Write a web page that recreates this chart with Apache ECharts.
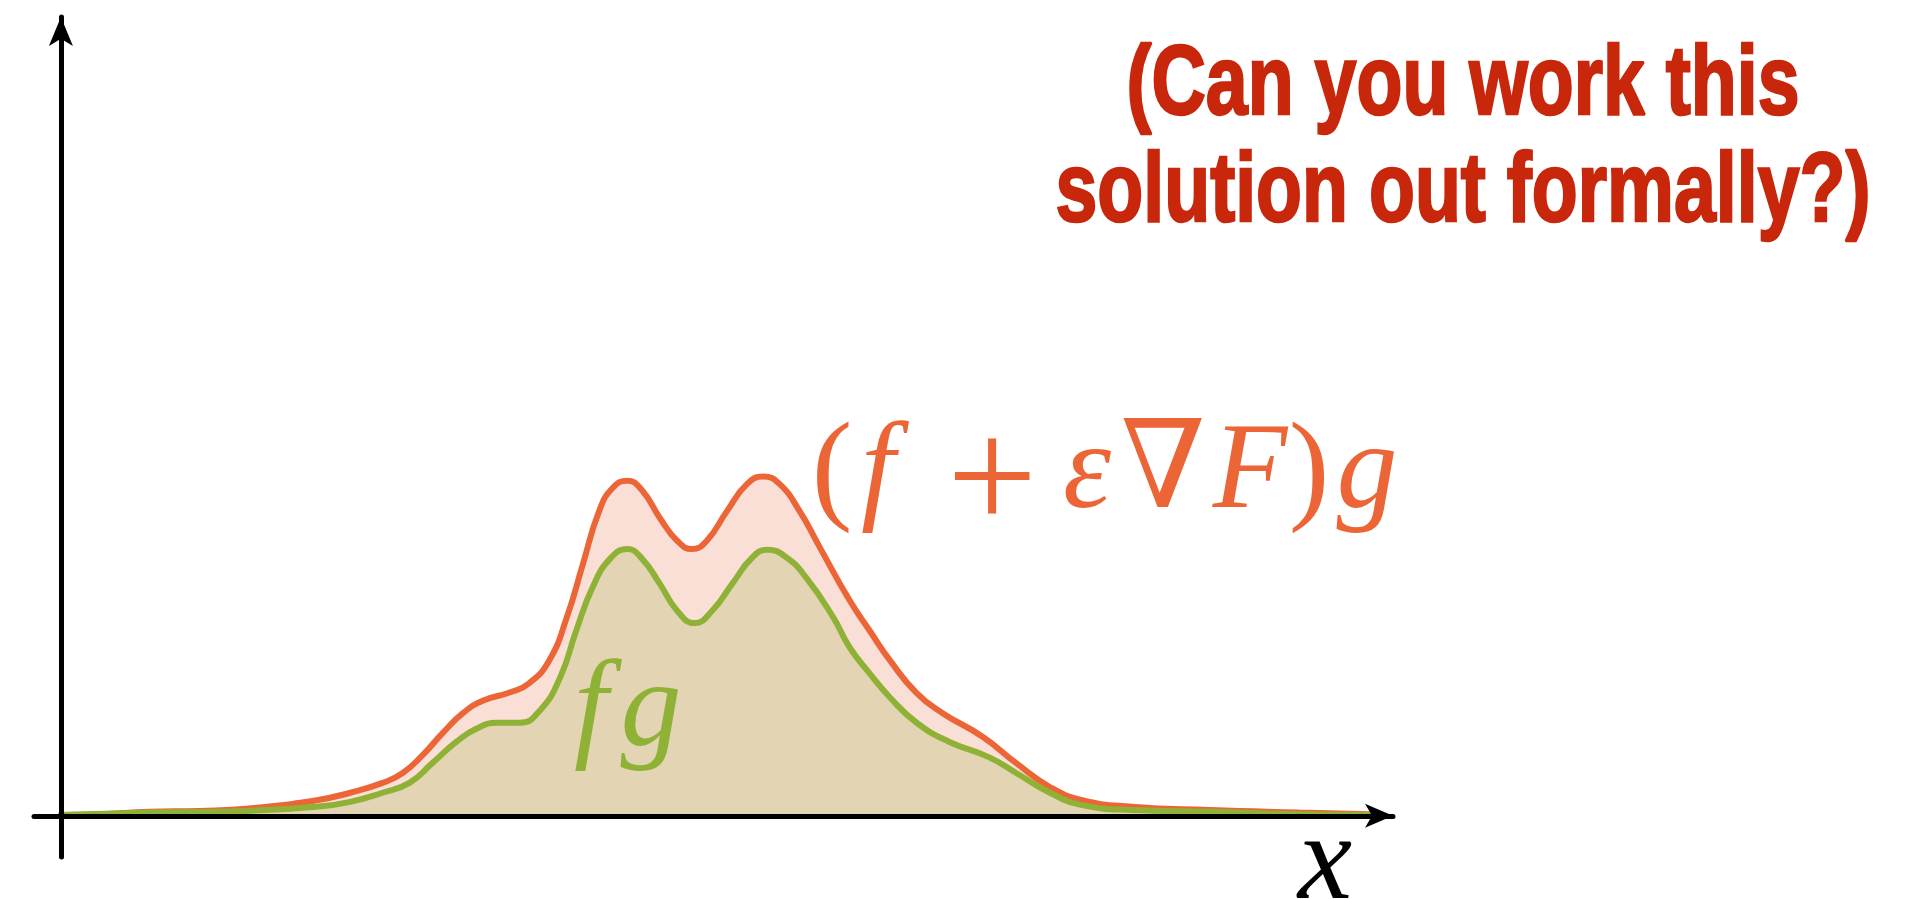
<!DOCTYPE html>
<html>
<head>
<meta charset="utf-8">
<script src="https://cdn.jsdelivr.net/npm/echarts@6/dist/echarts.min.js"></script>
<style>
  html, body { margin: 0; padding: 0; background: #ffffff; }
  #chart { width: 1907px; height: 899px; }
</style>
</head>
<body>
<div id="chart"></div>
<script>
// Perturbed density (f + eps * gradF) g, sampled along x
const perturbedX = [0, 2.9, 6.6, 10.3, 14.0, 19.0, 21.5, 23.9, 25.4, 26.9, 28.4, 29.9, 31.4, 33.4, 34.8, 36.3, 37.6, 38.8, 40.0, 41.0, 42.1, 43.2, 44.5, 45.8, 46.9, 48.0, 49.5, 51.0, 52.2, 53.4, 54.9, 56.4, 58.6, 60.1, 61.6, 63.6, 65.5, 68.5, 71.0, 73.5, 75.9, 79.6, 85.4, 92.0, 97.2];
const perturbedY = [0.1, 0.2, 0.5, 0.6, 0.9, 1.9, 2.8, 4.0, 5.2, 7.4, 10.1, 12.5, 14.0, 15.0, 16.1, 18.9, 24.1, 30.6, 37.0, 39.8, 40.7, 39.5, 36.2, 33.4, 32.4, 33.4, 37.0, 40.3, 41.2, 40.3, 37.0, 32.6, 26.2, 22.5, 18.9, 14.9, 12.5, 9.6, 6.4, 3.5, 1.9, 1.1, 0.7, 0.4, 0.2];

// Base density fg, sampled along x
const baseX = [0, 6.6, 14.0, 19.0, 21.5, 23.9, 25.9, 27.6, 29.4, 30.9, 32.4, 34.1, 35.6, 37.1, 38.3, 39.5, 40.8, 42.1, 43.2, 44.5, 45.8, 47.1, 48.4, 49.9, 51.4, 52.5, 53.9, 55.4, 57.4, 58.6, 60.1, 61.6, 63.6, 66.0, 69.0, 71.0, 73.5, 75.9, 79.6, 85.4, 92.0, 97.2];
const baseY = [0.1, 0.4, 0.6, 1.1, 1.7, 2.8, 4.0, 6.4, 9.0, 10.6, 11.3, 11.3, 12.8, 16.8, 22.5, 27.7, 31.2, 32.4, 31.2, 28.2, 24.9, 23.4, 24.9, 28.2, 31.4, 32.3, 31.4, 28.9, 24.1, 20.5, 17.3, 14.4, 11.3, 9.0, 7.1, 5.2, 2.8, 1.3, 0.7, 0.5, 0.2, 0.1];

const titleLines = ['(Can you work this', 'solution out formally?)'];

const ORANGE = '#ec6537';
const ORANGE_FILL = '#fadfd7';
const GREEN = '#8fb236';
const GREEN_FILL = '#e3d4b3';
const TITLE_RED = '#c8270b';

const pairs = (xs, ys) => xs.map((x, i) => [x, ys[i]]);

const chart = echarts.init(document.getElementById('chart'), null, { renderer: 'canvas' });

const mathFont = "'Liberation Serif', 'DejaVu Serif', serif";
const MATH_SIZE = 122;

// one glyph of a formula, centred horizontally on cx, vertically on cy
function glyph(text, cx, cy, color, italic, size) {
  return {
    type: 'text',
    x: cx,
    y: cy,
    z: 20,
    style: {
      text: text,
      fill: color,
      font: (italic ? 'italic ' : '') + (size || MATH_SIZE) + 'px ' + mathFont,
      textAlign: 'center',
      textVerticalAlign: 'middle'
    }
  };
}

// heavy condensed title line
function titleLine(text, cx, cy) {
  return {
    type: 'text',
    x: cx,
    y: cy,
    scaleX: 0.76,
    z: 20,
    style: {
      text: text,
      fill: TITLE_RED,
      stroke: TITLE_RED,
      lineWidth: 2.5,
      font: "bold 99px 'Liberation Sans Narrow', 'Liberation Sans', sans-serif",
      textAlign: 'center',
      textVerticalAlign: 'middle'
    }
  };
}

const formulaY = 475;
const fgY = 713;

const curveLine = (color) => ({ color: color, width: 6, cap: 'round', join: 'round' });

const option = {
  backgroundColor: '#ffffff',
  animation: false,
  grid: { left: 34, right: 514, top: 17, bottom: 42, containLabel: false },
  xAxis: {
    type: 'value',
    min: -2,
    max: 99,
    z: 10,
    axisLine: {
      show: true,
      onZero: true,
      symbol: ['none', 'arrow'],
      symbolSize: [18, 28],
      lineStyle: { color: '#000000', width: 5 }
    },
    axisTick: { show: false },
    axisLabel: { show: false },
    splitLine: { show: false }
  },
  yAxis: {
    type: 'value',
    min: -5,
    max: 97,
    z: 10,
    axisLine: {
      show: true,
      onZero: true,
      symbol: ['none', 'arrow'],
      symbolSize: [18, 29],
      lineStyle: { color: '#000000', width: 5 }
    },
    axisTick: { show: false },
    axisLabel: { show: false },
    splitLine: { show: false }
  },
  series: [
    {
      name: '(f + ε∇F)g',
      type: 'line',
      data: pairs(perturbedX, perturbedY),
      smooth: 0.5,
      symbol: 'none',
      z: 2,
      lineStyle: curveLine(ORANGE),
      areaStyle: { color: ORANGE_FILL, opacity: 1 }
    },
    {
      name: 'fg',
      type: 'line',
      data: pairs(baseX, baseY),
      smooth: 0.5,
      symbol: 'none',
      z: 3,
      lineStyle: curveLine(GREEN),
      areaStyle: { color: GREEN_FILL, opacity: 1 }
    }
  ],
  graphic: [
    titleLine(titleLines[0], 1463, 87),
    titleLine(titleLines[1], 1463, 194),
    glyph('(', 832, formulaY, ORANGE, false),
    glyph('f', 878, formulaY, ORANGE, true),
    glyph('+', 992, 488, ORANGE, false, 160),
    glyph('ε', 1087, formulaY, ORANGE, true),
    glyph('∇', 1163, formulaY, ORANGE, false),
    glyph('F', 1250, formulaY, ORANGE, true),
    glyph(')', 1309, formulaY, ORANGE, false),
    glyph('g', 1367, formulaY, ORANGE, true),
    glyph('f', 591, fgY, GREEN, true),
    glyph('g', 651, fgY, GREEN, true),
    glyph('x', 1325, 866, '#000000', true)
  ]
};

chart.setOption(option);
</script>
</body>
</html>
